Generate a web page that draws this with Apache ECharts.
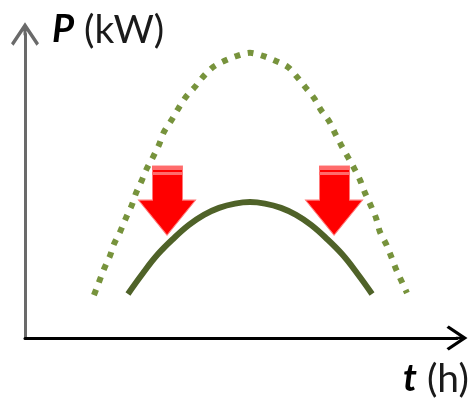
<!DOCTYPE html>
<html>
<head>
<meta charset="utf-8">
<script src="https://cdn.jsdelivr.net/npm/echarts@6/dist/echarts.min.js"></script>
<style>
html,body{margin:0;padding:0;background:#fff;}
#chart{width:474px;height:399px;}
</style>
</head>
<body>
<div id="chart"></div>
<script>
// Time (h) and power (kW) readings
const potentialCurve = [
  [3.83,1.41],[4.11,1.84],[4.39,2.27],[4.72,2.70],[4.94,3.09],[5.28,3.49],
  [5.61,3.95],[5.94,4.38],[6.17,4.77],[6.5,5.20],[6.78,5.59],[7.11,5.95],
  [7.44,6.35],[7.72,6.78],[8.11,7.14],[8.5,7.53],[8.94,7.93],[9.44,8.26],
  [9.89,8.59],[10.44,8.91],[11.06,9.11],[11.78,9.28],[12.5,9.38],
  [13.22,9.28],[13.94,9.11],[14.61,8.91],[15.11,8.59],[15.56,8.26],
  [16.06,7.89],[16.44,7.5],[16.89,7.14],[17.22,6.74],[17.56,6.35],
  [17.94,5.95],[18.28,5.59],[18.61,5.20],[18.89,4.77],[19.17,4.41],
  [19.5,3.95],[19.72,3.49],[20.06,3.09],[20.33,2.70],[20.61,2.27],
  [20.94,1.84],[21.22,1.48]
];
const curtailedCurve = [
  [5.72,1.45],[6.56,2.14],[7.39,2.76],[8.28,3.29],[9.11,3.72],[9.94,4.05],
  [10.78,4.28],[11.67,4.42],[12.5,4.47],[13.33,4.42],[14.22,4.28],[15.06,4.05],
  [15.89,3.72],[16.72,3.29],[17.61,2.76],[18.44,2.14],[19.28,1.45]
];
const arrowMarks = [[7.89,4.52],[17.17,4.52]];
const yTitle = ['P', ' (kW)'];
const xTitle = ['t', ' (h)'];

const chevron = 'path://M14 0 L28 21 L25.5 23.5 L15.5 8.5 L15.5 13 L12.5 13 L12.5 8.5 L2.5 23.5 L0 21 Z';
const downArrow = 'path://M14 0 L44 0 L44 34 L57 34 L28.5 69 L0 34 L14 34 Z';
const stripes = 'path://M0 0 L30 0 L30 4 L0 4 Z M0 6 L30 6 L30 9 L0 9 Z';

const chart = echarts.init(document.getElementById('chart'));
const labelFont = 'Lato, "Open Sans", sans-serif';
const richStyles = {
  p: {fontFamily: labelFont, fontSize: 38, fontWeight: 'bold', fontStyle: 'italic', color: '#000', lineHeight: 40},
  u: {fontFamily: labelFont, fontSize: 39, fontWeight: 'normal', color: '#1a1a1a', lineHeight: 40}
};
chart.setOption({
  animation: false,
  backgroundColor: '#fff',
  title: [
    {
      left: 52, top: 10, padding: 0,
      text: '{p|' + yTitle[0] + '}{u|' + yTitle[1] + '}',
      textStyle: {fontWeight: 'normal', rich: richStyles}
    }
  ],
  grid: {left: 25, right: 17, top: 34, bottom: 61},
  xAxis: {
    type: 'value', min: 0, max: 24,
    name: '{p|' + xTitle[0] + '}{u|' + xTitle[1] + '}',
    nameLocation: 'end', nameGap: 0,
    nameTextStyle: {align: 'left', verticalAlign: 'top', padding: [21, 0, 0, -54], rich: richStyles},
    axisLine: {show: true, onZero: true, lineStyle: {color: '#000', width: 3},
      symbol: ['none', chevron], symbolSize: [29, 21]},
    axisTick: {show: false}, axisLabel: {show: false}, splitLine: {show: false}
  },
  yAxis: {
    type: 'value', min: 0, max: 10,
    axisLine: {show: true, onZero: true, lineStyle: {color: '#6a6a6a', width: 3},
      symbol: ['none', chevron], symbolSize: [28, 24]},
    axisTick: {show: false}, axisLabel: {show: false}, splitLine: {show: false}
  },
  series: [
    {
      type: 'line', data: potentialCurve, smooth: 0.3, showSymbol: false,
      lineStyle: {color: '#77933c', width: 6, type: [6, 7.5]}
    },
    {
      type: 'line', data: curtailedCurve, smooth: 0.4, showSymbol: false,
      lineStyle: {color: '#4f6228', width: 6}
    },
    {
      type: 'scatter', data: arrowMarks, symbol: downArrow, symbolSize: [57, 69],
      itemStyle: {color: '#ff0000', opacity: 1, borderColor: '#ff7a7a', borderWidth: 1}, z: 5
    },
    {
      type: 'scatter', data: arrowMarks, symbol: stripes, symbolSize: [30, 9],
      symbolOffset: [0, -30],
      itemStyle: {color: '#ff6b6b', opacity: 1}, z: 6
    }
  ]
});
</script>
</body>
</html>
